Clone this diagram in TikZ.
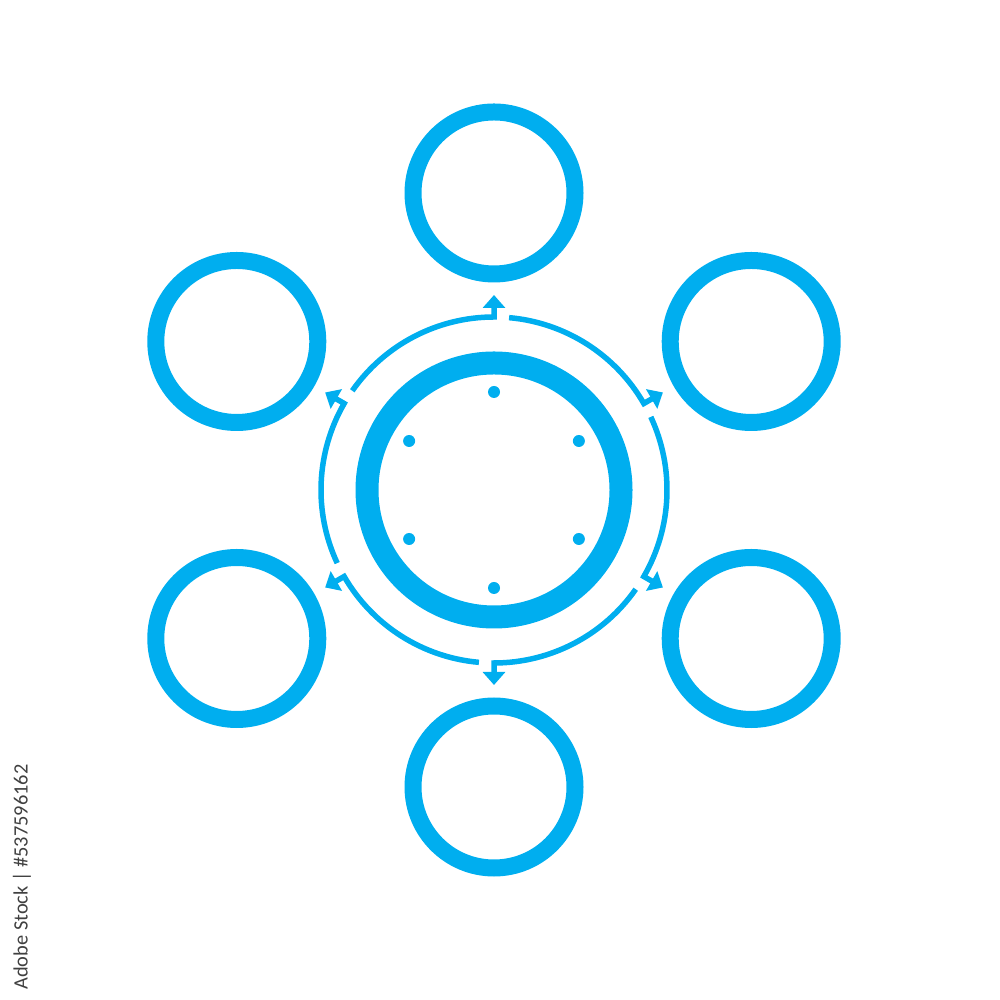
\documentclass[tikz,border=0pt]{standalone}
\usepackage{fontspec}
\usepackage{tikz}
\usetikzlibrary{arrows.meta}
\newfontfamily\stockfont{Carlito}
\definecolor{ringblue}{HTML}{00AEEF}
\definecolor{idgray}{HTML}{404040}

\begin{document}
\begin{tikzpicture}[
  ring/.style={circle,draw=ringblue,line width=0.17cm,minimum size=1.62cm,inner sep=0pt},
  hub/.style={circle,draw=ringblue,line width=0.23cm,minimum size=2.54cm,inner sep=0pt},
  tick/.style={circle,fill=ringblue,inner sep=0pt,minimum size=0.12cm},
  flow/.style={draw=ringblue,line width=0.055cm,-{Triangle[width=0.22cm,length=0.13cm]}}]
\useasboundingbox (-4.94,-5.10) rectangle (5.06,4.90);
% hub in the middle
\node[hub](hub)at(0,0){};
% six satellites, ticks and arrows
\foreach \a/\n in {90/1,30/2,-30/3,-90/4,-150/5,150/6}{
  \node[ring](s\n)at(\a:2.97){};
  \node[tick](d\n)at(\a:0.98){};
  \draw[flow] (\a+55:1.73) arc[start angle=\a+55,end angle=\a,radius=1.73] -- (\a:1.95);
}
\node[rotate=90,text=idgray,inner sep=0pt](id)at(-4.72,-3.87){\stockfont\fontsize{5.8pt}{7pt}\selectfont Adobe Stock | \#537596162};
\end{tikzpicture}
\end{document}
